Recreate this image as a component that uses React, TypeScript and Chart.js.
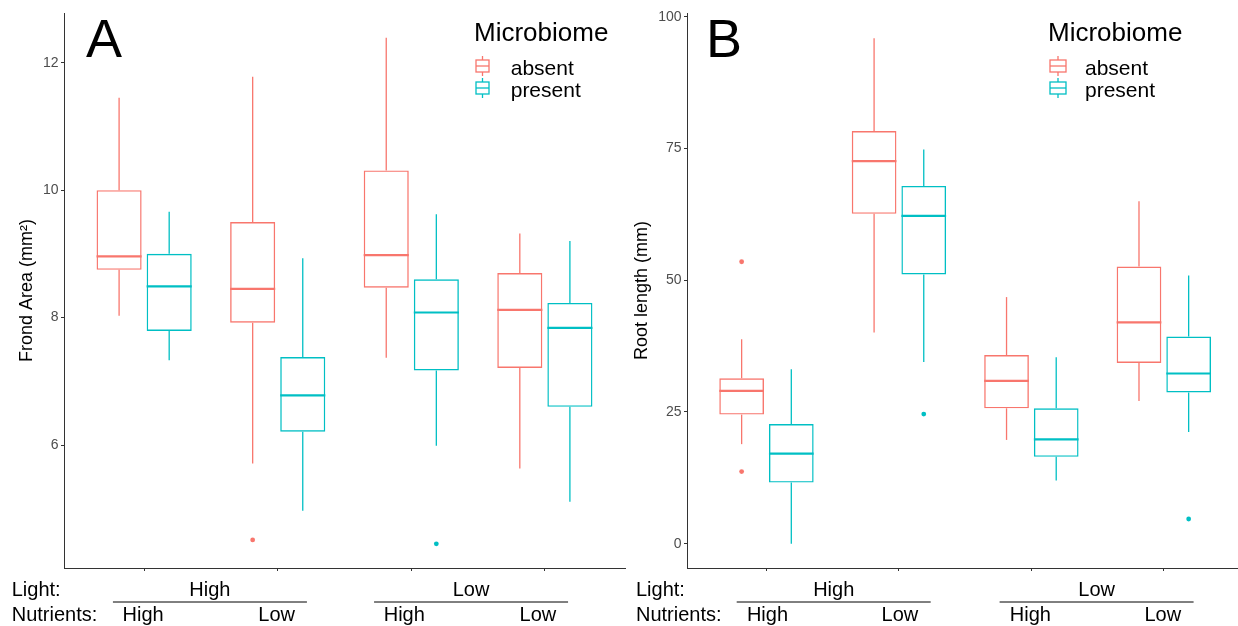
import React, { useEffect, useRef } from "react";
import { Chart, registerables } from "chart.js";

Chart.register(...registerables);

const FONT = "'Liberation Sans', Arial, Helvetica, sans-serif";

// ---------- shared categories ----------
const groupPositions = [1, 2, 3, 4];
const lightLevels = ["High", "Low"];
const nutrientLevels = ["High", "Low", "High", "Low"];
const microbiomeLevels = ["absent", "present"];
const microbiomeColors = ["#F8766D", "#00BFC4"];

// ---------- panel A: frond area ----------
const frondTicks = [6, 8, 10, 12];
const frondAbsentLow = [8.03, 5.71, 7.37, 5.63];
const frondAbsentQ1 = [8.75, 7.92, 8.47, 7.21];
const frondAbsentMedian = [8.96, 8.45, 8.98, 8.12];
const frondAbsentQ3 = [10.0, 9.5, 10.31, 8.7];
const frondAbsentHigh = [11.45, 11.78, 12.39, 9.32];
const frondAbsentOutliers = [[], [4.51], [], []];
const frondPresentLow = [7.33, 4.97, 5.99, 5.11];
const frondPresentQ1 = [7.79, 6.21, 7.17, 6.6];
const frondPresentMedian = [8.49, 6.78, 8.08, 7.84];
const frondPresentQ3 = [9.0, 7.38, 8.6, 8.23];
const frondPresentHigh = [9.66, 8.93, 9.62, 9.2];
const frondPresentOutliers = [[], [], [4.45], []];

// ---------- panel B: root length ----------
const rootTicks = [0, 25, 50, 75, 100];
const rootAbsentLow = [18.9, 40.1, 19.7, 27.1];
const rootAbsentQ1 = [24.5, 62.6, 25.7, 34.3];
const rootAbsentMedian = [29.0, 72.6, 30.9, 42.0];
const rootAbsentQ3 = [31.4, 78.3, 35.8, 52.6];
const rootAbsentHigh = [38.8, 95.9, 46.8, 65.0];
const rootAbsentOutliers = [[13.7, 53.5], [], [], []];
const rootPresentLow = [0, 34.5, 12.0, 21.2];
const rootPresentQ1 = [11.6, 51.1, 16.5, 28.7];
const rootPresentMedian = [17.1, 62.2, 19.8, 32.3];
const rootPresentQ3 = [22.7, 67.9, 25.7, 39.3];
const rootPresentHigh = [33.1, 74.8, 35.4, 50.9];
const rootPresentOutliers = [[], [24.6], [], [4.7]];

interface SeriesStats {
  low: number[];
  q1: number[];
  median: number[];
  q3: number[];
  high: number[];
  outliers: number[][];
}

interface PanelSpec {
  letter: string;
  yTitle: string;
  yMin: number;
  yMax: number;
  xMax: number;
  ticks: number[];
  series: SeriesStats[];
  canvasLeft: number;
  canvasWidth: number;
  axisWidth: number;
  padRight: number;
  titlePad: number;
  letterX: number;
  legendX: number;
  iconX: number;
  iconW: number;
  itemX: number;
  lightX: number;
  groupShift: number[];
}

const H = 626;

const panelA: PanelSpec = {
  letter: "A",
  yTitle: "Frond Area (mm²)",
  yMin: 4.07,
  yMax: 12.78,
  xMax: 4.6,
  ticks: frondTicks,
  series: [
    { low: frondAbsentLow, q1: frondAbsentQ1, median: frondAbsentMedian, q3: frondAbsentQ3, high: frondAbsentHigh, outliers: frondAbsentOutliers },
    { low: frondPresentLow, q1: frondPresentQ1, median: frondPresentMedian, q3: frondPresentQ3, high: frondPresentHigh, outliers: frondPresentOutliers },
  ],
  canvasLeft: 0,
  canvasWidth: 630,
  axisWidth: 64,
  padRight: 5,
  titlePad: 16.2,
  letterX: 86,
  legendX: 474,
  iconX: 476,
  iconW: 13,
  itemX: 510.7,
  lightX: 11.7,
  groupShift: [-1, -7],
};

const panelB: PanelSpec = {
  letter: "B",
  yTitle: "Root length (mm)",
  yMin: -4.6,
  yMax: 100.7,
  xMax: 4.56,
  ticks: rootTicks,
  series: [
    { low: rootAbsentLow, q1: rootAbsentQ1, median: rootAbsentMedian, q3: rootAbsentQ3, high: rootAbsentHigh, outliers: rootAbsentOutliers },
    { low: rootPresentLow, q1: rootPresentQ1, median: rootPresentMedian, q3: rootPresentQ3, high: rootPresentHigh, outliers: rootPresentOutliers },
  ],
  canvasLeft: 630,
  canvasWidth: 608,
  axisWidth: 57,
  padRight: 0,
  titlePad: 1.2,
  letterX: 76,
  legendX: 418,
  iconX: 420,
  iconW: 16,
  itemX: 455,
  lightX: 6,
  groupShift: [1, -1],
};

function line(ctx: CanvasRenderingContext2D, x1: number, y1: number, x2: number, y2: number) {
  ctx.beginPath();
  ctx.moveTo(x1, y1);
  ctx.lineTo(x2, y2);
  ctx.stroke();
}

function makePlugin(spec: PanelSpec) {
  return {
    id: "boxExtras" + spec.letter,
    afterDatasetsDraw(chart: any) {
      const ctx: CanvasRenderingContext2D = chart.ctx;
      const y = chart.scales.y;
      spec.series.forEach((s, d) => {
        const meta = chart.getDatasetMeta(d);
        meta.data.forEach((el: any, i: number) => {
          const x = el.x;
          const w = el.width;
          ctx.save();
          ctx.strokeStyle = microbiomeColors[d];
          ctx.lineWidth = 1.3;
          line(ctx, x, y.getPixelForValue(s.high[i]), x, y.getPixelForValue(s.q3[i]));
          line(ctx, x, y.getPixelForValue(s.q1[i]), x, y.getPixelForValue(s.low[i]));
          ctx.lineWidth = 2.2;
          const ym = y.getPixelForValue(s.median[i]);
          line(ctx, x - w / 2, ym, x + w / 2, ym);
          ctx.fillStyle = microbiomeColors[d];
          s.outliers[i].forEach((v) => {
            ctx.beginPath();
            ctx.arc(x, y.getPixelForValue(v), 2.4, 0, Math.PI * 2);
            ctx.fill();
          });
          ctx.restore();
        });
      });
    },
    afterDraw(chart: any) {
      const ctx: CanvasRenderingContext2D = chart.ctx;
      const xs = chart.scales.x;
      ctx.save();
      // panel letter
      ctx.fillStyle = "#000";
      ctx.textAlign = "left";
      ctx.textBaseline = "alphabetic";
      ctx.font = `54px ${FONT}`;
      ctx.fillText(spec.letter, spec.letterX, 57);
      // legend
      ctx.font = `26px ${FONT}`;
      ctx.fillText("Microbiome", spec.legendX, 40.5);
      ctx.font = `21px ${FONT}`;
      microbiomeLevels.forEach((lab, d) => {
        const cy = 66 + d * 22;
        ctx.strokeStyle = microbiomeColors[d];
        ctx.lineWidth = 1.3;
        const cx = spec.iconX + spec.iconW / 2;
        ctx.strokeRect(spec.iconX, cy - 6, spec.iconW, 12);
        line(ctx, spec.iconX, cy, spec.iconX + spec.iconW, cy);
        line(ctx, cx, cy - 10, cx, cy - 6);
        line(ctx, cx, cy + 6, cx, cy + 10);
        ctx.fillStyle = "#000";
        ctx.fillText(lab, spec.itemX, 75 + d * 21.5);
      });
      // bottom annotation
      ctx.font = `20px ${FONT}`;
      ctx.fillStyle = "#000";
      ctx.textAlign = "left";
      ctx.fillText("Light:", spec.lightX, 596);
      ctx.fillText("Nutrients:", spec.lightX, 620.5);
      ctx.textAlign = "center";
      lightLevels.forEach((lab, g) => {
        const a = groupPositions[g * 2];
        const b = groupPositions[g * 2 + 1];
        const shift = spec.groupShift[g];
        const mid = (xs.getPixelForValue(a) + xs.getPixelForValue(b)) / 2 + shift;
        ctx.fillText(lab, mid, 596);
        ctx.strokeStyle = "#000";
        ctx.lineWidth = 1;
        line(ctx, mid - 97, 602, mid + 97, 602);
        ctx.fillText(nutrientLevels[g * 2], xs.getPixelForValue(a) + shift, 620.5);
        ctx.fillText(nutrientLevels[g * 2 + 1], xs.getPixelForValue(b) + shift, 620.5);
      });
      ctx.restore();
    },
  };
}

function buildConfig(spec: PanelSpec): any {
  return {
    type: "bar",
    data: {
      datasets: spec.series.map((s, d) => ({
        label: microbiomeLevels[d],
        data: groupPositions.map((g, i) => ({ x: g, y: [s.q1[i], s.q3[i]] })),
        backgroundColor: "rgba(255,255,255,0)",
        borderColor: microbiomeColors[d],
        borderWidth: 1.4,
        borderSkipped: false,
        categoryPercentage: 0.75,
        barPercentage: 0.9,
      })),
    },
    options: {
      animation: false,
      responsive: false,
      maintainAspectRatio: false,
      events: [],
      layout: { padding: { top: 13, right: spec.padRight, bottom: 0, left: 0 } },
      plugins: { legend: { display: false }, tooltip: { enabled: false }, title: { display: false } },
      scales: {
        x: {
          type: "linear",
          min: 0.4,
          max: spec.xMax,
          offset: false,
          afterBuildTicks: (axis: any) => {
            axis.ticks = groupPositions.map((v) => ({ value: v }));
          },
          afterFit: (axis: any) => {
            axis.height = 58;
          },
          ticks: { callback: () => "", autoSkip: false, maxRotation: 0 },
          grid: { display: true, offset: false, drawOnChartArea: false, drawTicks: true, tickLength: 3, color: "#333", lineWidth: 1 },
          border: { display: true, color: "#333", width: 1 },
        },
        y: {
          type: "linear",
          min: spec.yMin,
          max: spec.yMax,
          afterBuildTicks: (axis: any) => {
            axis.ticks = spec.ticks.map((v) => ({ value: v }));
          },
          afterFit: (axis: any) => {
            axis.width = spec.axisWidth;
          },
          ticks: { color: "#4D4D4D", font: { family: FONT, size: 14 }, padding: 2.5, autoSkip: false },
          grid: { display: true, drawOnChartArea: false, drawTicks: true, tickLength: 3, color: "#333", lineWidth: 1 },
          border: { display: true, color: "#333", width: 1 },
          title: {
            display: true,
            text: spec.yTitle,
            color: "#000",
            font: { family: FONT, size: 18 },
            padding: { top: spec.titlePad, bottom: 0 },
          },
        },
      },
    },
    plugins: [makePlugin(spec)],
  };
}

function Panel({ spec }: { spec: PanelSpec }) {
  const ref = useRef<HTMLCanvasElement | null>(null);
  useEffect(() => {
    if (!ref.current) return;
    const chart = new Chart(ref.current, buildConfig(spec));
    return () => chart.destroy();
  }, [spec]);
  return (
    <canvas
      ref={ref}
      width={spec.canvasWidth}
      height={H}
      style={{ position: "absolute", left: spec.canvasLeft, top: 0, width: spec.canvasWidth, height: H }}
    />
  );
}

export default function App() {
  return (
    <div style={{ position: "absolute", left: 0, top: 0, width: 1238, height: H, background: "#fff", overflow: "hidden" }}>
      <Panel spec={panelA} />
      <Panel spec={panelB} />
    </div>
  );
}
